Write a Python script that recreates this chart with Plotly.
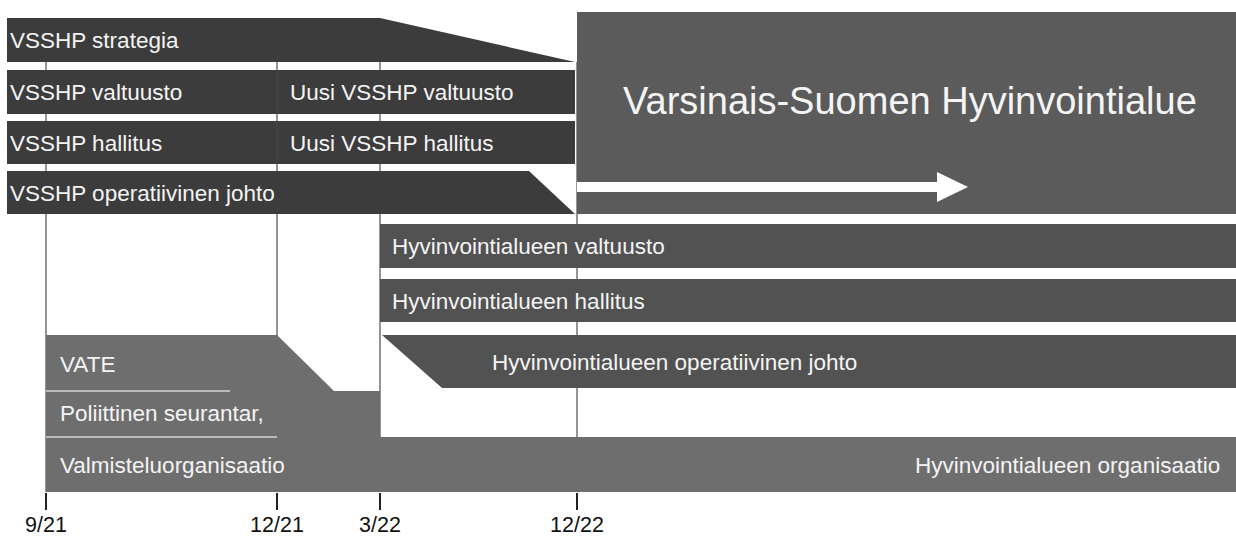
import plotly.graph_objects as go

# ---- data ----
milestones = ["9/21", "12/21", "3/22", "12/22"]
milestone_pos = [46, 277, 380, 577]          # axis positions of the milestones (diagram is not to time scale)
axis_end = 1236

top_labels_left = ["VSSHP strategia", "VSSHP valtuusto", "VSSHP hallitus", "VSSHP operatiivinen johto"]
top_labels_right = ["", "Uusi VSSHP valtuusto", "Uusi VSSHP hallitus", ""]
mid_labels = ["Hyvinvointialueen valtuusto", "Hyvinvointialueen hallitus", "Hyvinvointialueen operatiivinen johto"]
prep_labels = ["VATE", "Poliittinen seurantar,", "Valmisteluorganisaatio"]
org_label = "Hyvinvointialueen organisaatio"
region_label = "Varsinais-Suomen Hyvinvointialue"

# ---- styling ----
FONT = "Liberation Sans, Arial, sans-serif"
C_TOP = "#3c3c3c"
C_BIG = "#5b5b5b"
C_MID = "#525252"
C_LOW = "#6e6e6e"
TXT = "#f4f4f4"

m0, m1, m2, m3 = milestone_pos
left = 7

def poly(pts, color, line=None):
    path = "M " + " L ".join(f"{x},{y}" for x, y in pts) + " Z"
    return dict(type="path", path=path, fillcolor=color, line=dict(width=0) if line is None else line,
                xref="x", yref="y", layer="above")

def rect(x0, y0, x1, y1, color):
    return dict(type="rect", x0=x0, y0=y0, x1=x1, y1=y1, fillcolor=color, line=dict(width=0),
                xref="x", yref="y", layer="above")

def vline(x, y0, y1, color="#2a2a2a", width=1):
    return dict(type="line", x0=x, x1=x, y0=y0, y1=y1, line=dict(color=color, width=width),
                xref="x", yref="y", layer="above")

def hline(x0, x1, y, color, width=1.5):
    return dict(type="line", x0=x0, x1=x1, y0=y, y1=y, line=dict(color=color, width=width),
                xref="x", yref="y", layer="above")

shapes = []
# milestone guide lines (drawn first, under the bars)
for p in milestone_pos:
    shapes.append(vline(p, 62, 492))

# top VSSHP rows
shapes.append(poly([(left, 18), (m2, 18), (m3 - 2, 62), (left, 62)], C_TOP))
shapes.append(rect(left, 70, m3 - 2, 114, C_TOP))
shapes.append(rect(left, 121, m3 - 2, 164, C_TOP))
shapes.append(poly([(left, 171), (529, 171), (m3 - 2, 214), (left, 214)], C_TOP))
shapes.append(vline(m1, 70, 114, "#474747"))
shapes.append(vline(m1, 121, 164, "#474747"))

# big region box with arrow
shapes.append(rect(m3, 12, axis_end, 214, C_BIG))
shapes.append(poly([(m3, 182), (937, 182), (937, 172), (968, 187), (937, 202), (937, 192), (m3, 192)], "#ffffff"))

# middle rows
shapes.append(rect(m2, 224, axis_end, 268, C_MID))
shapes.append(rect(m2, 279, axis_end, 322, C_MID))
shapes.append(poly([(m2 + 2, 335), (axis_end, 335), (axis_end, 388), (442, 388)], C_MID))

# preparation / organisation block
shapes.append(poly([(m0, 335), (m1, 335), (334, 391), (m2, 391), (m2, 437), (axis_end, 437),
                    (axis_end, 492), (m0, 492)], C_LOW))
shapes.append(hline(m0, 230, 391, "#d4d4d4"))
shapes.append(hline(m0, m1, 437, "#d4d4d4"))

annotations = []
def label(x, y, text, size=22.5, anchor="left"):
    annotations.append(dict(x=x, y=y, xref="x", yref="y", text=text, showarrow=False,
                            xanchor=anchor, yanchor="middle",
                            font=dict(family=FONT, size=size, color=TXT)))

top_y = [40, 92, 143, 193]
for t, y in zip(top_labels_left, top_y):
    label(left + 1, y, t)
for t, y in zip(top_labels_right, top_y):
    if t:
        label(288, y, t)

label(910, 101, region_label, size=38, anchor="center")

mid_y = [246, 301, 362]
mid_x = [390, 390, 490]
for t, x, y in zip(mid_labels, mid_x, mid_y):
    label(x, y, t)

prep_y = [364, 413, 465]
for t, y in zip(prep_labels, prep_y):
    label(58, y, t)
label(1222, 465, org_label, anchor="right")

fig = go.Figure()
fig.add_trace(go.Scatter(x=milestone_pos, y=[492] * len(milestone_pos), mode="markers",
                         marker=dict(opacity=0), hoverinfo="skip", showlegend=False))
fig.update_layout(
    width=1236, height=540, autosize=False,
    margin=dict(l=0, r=0, t=0, b=48, autoexpand=False),
    paper_bgcolor="white", plot_bgcolor="white",
    shapes=shapes, annotations=annotations, showlegend=False,
    xaxis=dict(range=[0, axis_end], showgrid=False, zeroline=False, showline=False,
               tickmode="array", tickvals=milestone_pos, ticktext=milestones,
               ticks="outside", ticklen=17, tickwidth=1.5, tickcolor="#222",
               ticklabelstandoff=-4,
               tickfont=dict(family=FONT, size=21.5, color="#111"), automargin=False),
    yaxis=dict(range=[492, 0], visible=False, showgrid=False, zeroline=False),
)
fig.write_html("out.html", config={"responsive": False, "displayModeBar": False},
               post_script="document.body.style.margin='0';document.body.style.overflow='hidden';")
